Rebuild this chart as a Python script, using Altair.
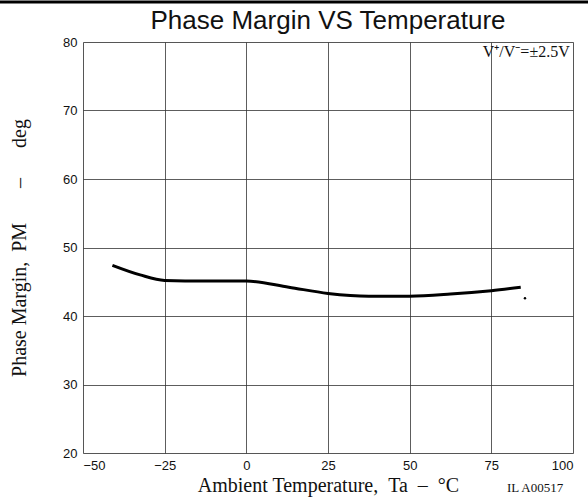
import altair as alt
import pandas as pd

temps = [-41, -32.5, -25, -12.5, 0, 13, 25, 37.5, 50, 62.5, 75, 84]
pm = [47.4, 46.0, 45.2, 45.1, 45.1, 44.2, 43.3, 42.9, 42.9, 43.2, 43.7, 44.2]
dot_t = [85.3]
dot_pm = [42.6]
x_ticks = [-50, -25, 0, 25, 50, 75, 100]
y_ticks = [20, 30, 40, 50, 60, 70, 80]

df = pd.DataFrame({"t": temps, "pm": pm})
dots = pd.DataFrame({"t": dot_t, "pm": dot_pm})

NB = "\u00a0"
x_title = "Ambient Temperature," + NB * 2 + "Ta" + NB * 2 + "–" + NB * 2 + "°C"
y_title = "Phase Margin," + NB * 2 + "PM" + NB * 7 + "–" + NB * 6 + "deg"

W, H = 490, 411
xs = alt.Scale(domain=[-50, 100], nice=False, zero=False)
ys = alt.Scale(domain=[20, 80], nice=False, zero=False)

xax = alt.Axis(values=x_ticks, title=x_title,
               grid=True, gridColor="#333", gridWidth=0.8, ticks=False,
               labelFont="Liberation Sans", labelFontSize=13, labelColor="#111",
               labelPadding=6, titleFont="Liberation Serif", titleFontSize=20,
               titleFontWeight="normal", titleColor="#111", titlePadding=3,
               domain=False)
yax = alt.Axis(values=y_ticks, title=y_title,
               grid=True, gridColor="#333", gridWidth=0.8, ticks=False,
               labelFont="Liberation Sans", labelFontSize=13, labelColor="#111",
               labelPadding=6, titleFont="Liberation Serif", titleFontSize=20,
               titleFontWeight="normal", titleColor="#111", titlePadding=33,
               domain=False)

line = alt.Chart(df).mark_line(color="black", strokeWidth=3, interpolate="monotone").encode(
    x=alt.X("t:Q", scale=xs, axis=xax),
    y=alt.Y("pm:Q", scale=ys, axis=yax),
)
dot = alt.Chart(dots).mark_point(filled=True, color="black", size=6, opacity=1).encode(
    x=alt.X("t:Q", scale=xs), y=alt.Y("pm:Q", scale=ys)
)

ann = pd.DataFrame({"t": [99], "pm": [78.5], "label": ["V⁺/V⁻=±2.5V"]})
note = alt.Chart(ann).mark_text(align="right", baseline="middle", font="Liberation Serif",
                                fontSize=16, color="#111").encode(
    x=alt.X("t:Q", scale=xs), y=alt.Y("pm:Q", scale=ys), text="label:N")

code = pd.DataFrame({"t": [97], "pm": [14.9], "label": ["IL A00517"]})
codet = alt.Chart(code).mark_text(align="right", baseline="middle", font="Liberation Serif",
                                  fontSize=13, color="#111").encode(
    x=alt.X("t:Q", scale=xs), y=alt.Y("pm:Q", scale=ys), text="label:N")

title_df = pd.DataFrame({"t": [25], "pm": [81.2], "label": ["Phase Margin VS Temperature"]})
titlet = alt.Chart(title_df).mark_text(align="center", baseline="bottom", font="Liberation Sans",
                                       fontSize=26, color="#111").encode(
    x=alt.X("t:Q", scale=xs), y=alt.Y("pm:Q", scale=ys), text="label:N")

topbar = alt.Chart(pd.DataFrame({"a": [0]})).mark_rule(color="black", strokeWidth=3).encode(
    x=alt.value(-83), x2=alt.value(505), y=alt.value(-40))

chart = alt.layer(line, dot, note, codet, titlet, topbar).properties(
    width=W, height=H,
    autosize=alt.AutoSizeParams(type="none"),
    padding={"left": 83, "top": 42, "right": 15, "bottom": 48},
).configure_view(stroke="black", strokeWidth=1.5).configure(background="white")

chart.save("out.html", embed_options={"renderer": "svg", "actions": False})
